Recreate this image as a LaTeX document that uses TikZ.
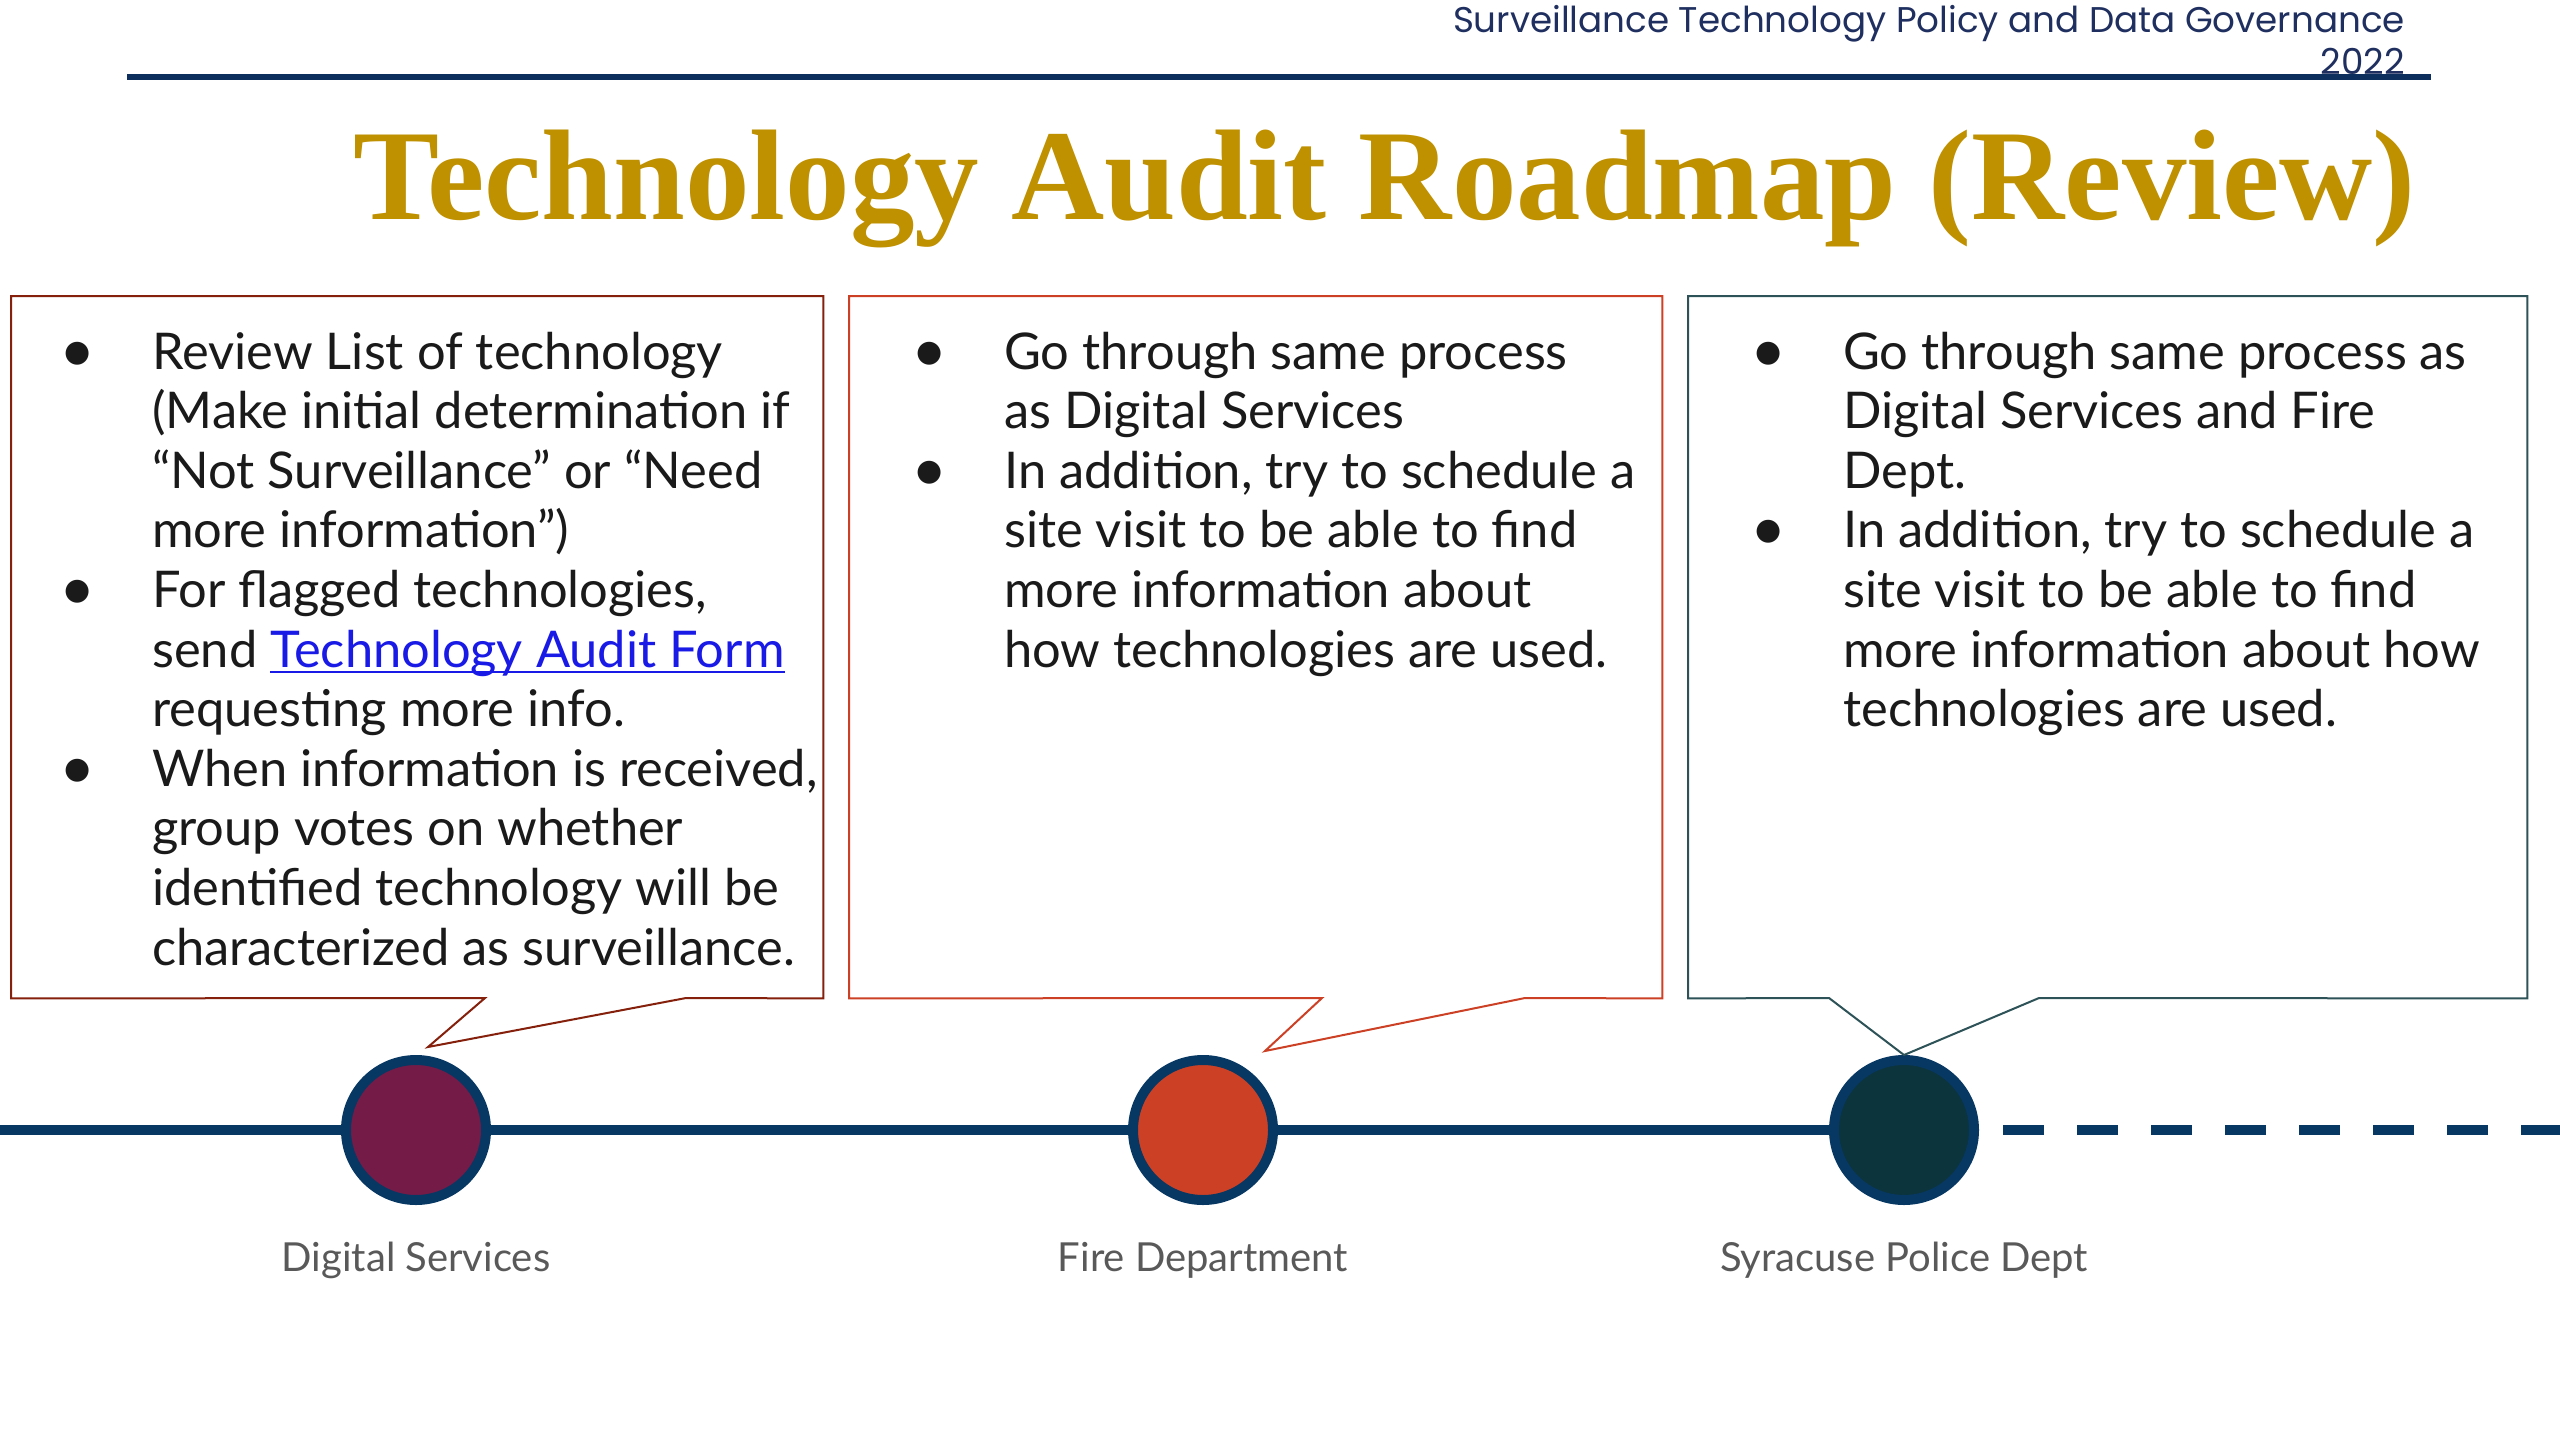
\documentclass[tikz,border=0pt]{standalone}
\usepackage{fontspec}
\setmainfont{Lato}
\newfontfamily\popfont{Poppins}
\newfontfamily\titlefont{Liberation Serif}
\newfontfamily\dejavu{DejaVu Sans}
\usetikzlibrary{calc}
\definecolor{headnavy}{HTML}{1F2F5F}
\definecolor{rulenavy}{HTML}{0D2F5E}
\definecolor{titlegold}{HTML}{BF9000}
\definecolor{tlnavy}{HTML}{073763}
\definecolor{boxred}{HTML}{85200C}
\definecolor{boxorange}{HTML}{CC4125}
\definecolor{boxteal}{HTML}{2D5257}
\definecolor{fillpurple}{HTML}{741B47}
\definecolor{fillorange}{HTML}{CC4125}
\definecolor{fillteal}{HTML}{0C343D}
\definecolor{linkblue}{HTML}{1A1AE6}
\definecolor{bodytext}{HTML}{1A1A1A}
\definecolor{lblgray}{HTML}{595959}
\newsavebox\lnkbox
\newcommand\bul{\makebox[75bp][l]{\makebox[0pt]{\raisebox{8bp}{\dejavu\fontsize{30bp}{30bp}\selectfont ●}}}}
\newcommand\ind{\hspace*{75bp}}
\newcommand\lnk[1]{\sbox\lnkbox{\color{linkblue}#1}{\color{linkblue}\rlap{\usebox\lnkbox}\rule[-6bp]{\wd\lnkbox}{2.4bp}}}
\tikzset{
  boxarea/.style={draw=none, anchor=north west, inner sep=0, minimum height=702bp},
  callout/.style={line width=2bp, line join=miter},
  bodytxt/.style={anchor=base west, inner sep=0, text=bodytext, font=\fontsize{50.6bp}{59.6bp}\selectfont},
  milestone/.style={circle, draw=tlnavy, line width=10bp, minimum size=140bp, inner sep=0},
  tline/.style={draw=tlnavy, line width=10bp},
  lbl/.style={inner sep=0, text=lblgray, font=\fontsize{40bp}{48bp}\selectfont}
}
\begin{document}
\begin{tikzpicture}[x=1bp,y=-1bp]
\fill[white] (0,0) rectangle (2560,1440);
\useasboundingbox (0,0) rectangle (2560,1440);

% header
\node[anchor=base east, inner sep=0, text=headnavy, font=\popfont\fontsize{35.7bp}{42bp}\selectfont] (hdr) at (2405,33)
  {\begin{tabular}[t]{@{}r@{}}Surveillance Technology Policy and Data Governance\\2022\end{tabular}};
\coordinate (ruleL) at (127,77);
\coordinate (ruleR) at (2431,77);
\draw[draw=rulenavy, line width=6bp] (ruleL) -- (ruleR);

% title
\node[anchor=base, inner sep=0, text=titlegold, font=\titlefont\bfseries\fontsize{129bp}{129bp}\selectfont] (title) at (1384.5,220) {Technology Audit Roadmap (Review)};

% timeline
\node[milestone, fill=fillpurple] (c1) at (416,1130) {};
\node[milestone, fill=fillorange] (c2) at (1203,1130) {};
\node[milestone, fill=fillteal] (c3) at (1904,1130) {};
\coordinate (tlstart) at (0,1130);
\coordinate (tlend) at (2560,1130);
\coordinate (dstart) at ($(c3.east)+(24,0)$);
\draw[tline] (tlstart) -- (c1.west);
\draw[tline] (c1.east) -- (c2.west);
\draw[tline] (c2.east) -- (c3.west);
\draw[tline, dash pattern=on 41bp off 33bp] (dstart) -- (tlend);

% boxes
\node[boxarea, minimum width=812bp] (b1) at (11,296) {};
\node[boxarea, minimum width=813bp] (b2) at (849,296) {};
\node[boxarea, minimum width=839bp] (b3) at (1688,296) {};

\coordinate (tip1) at (428,1047);
\coordinate (tip2) at (1265,1051);
\coordinate (tip3) at (c3.north);

\draw[callout, draw=boxred] (b1.north west) -- (b1.north east) -- (b1.south east) -- (686,998) -- (tip1) -- (485,998) -- (b1.south west) -- cycle;
\draw[callout, draw=boxorange] (b2.north west) -- (b2.north east) -- (b2.south east) -- (1525,998) -- (tip2) -- (1322,998) -- (b2.south west) -- cycle;
\draw[callout, draw=boxteal] (b3.north west) -- (b3.north east) -- (b3.south east) -- (2039,998) -- (tip3) -- (1829,998) -- (b3.south west) -- cycle;

% texts
\node[bodytxt] (t1) at (77,369) {\begin{tabular}[t]{@{}l@{}}
\bul Review List of technology\\
\ind (Make initial determination if\\
\ind “Not Surveillance” or “Need\\
\ind more information”)\\
\bul For flagged technologies,\\
\ind send \lnk{Technology Audit Form}\\
\ind requesting more info.\\
\bul When information is received,\\
\ind group votes on whether\\
\ind identified technology will be\\
\ind characterized as surveillance.
\end{tabular}};

\node[bodytxt] (t2) at (929,369) {\begin{tabular}[t]{@{}l@{}}
\bul Go through same process\\
\ind as Digital Services\\
\bul In addition, try to schedule a\\
\ind site visit to be able to find\\
\ind more information about\\
\ind how technologies are used.
\end{tabular}};

\node[bodytxt] (t3) at (1768,369) {\begin{tabular}[t]{@{}l@{}}
\bul Go through same process as\\
\ind Digital Services and Fire\\
\ind Dept.\\
\bul In addition, try to schedule a\\
\ind site visit to be able to find\\
\ind more information about how\\
\ind technologies are used.
\end{tabular}};

% labels
\node[lbl] (l1) at (416,1260) {Digital Services};
\node[lbl] (l2) at (1203,1260) {Fire Department};
\node[lbl] (l3) at (1904,1260) {Syracuse Police Dept};
\end{tikzpicture}
\end{document}
